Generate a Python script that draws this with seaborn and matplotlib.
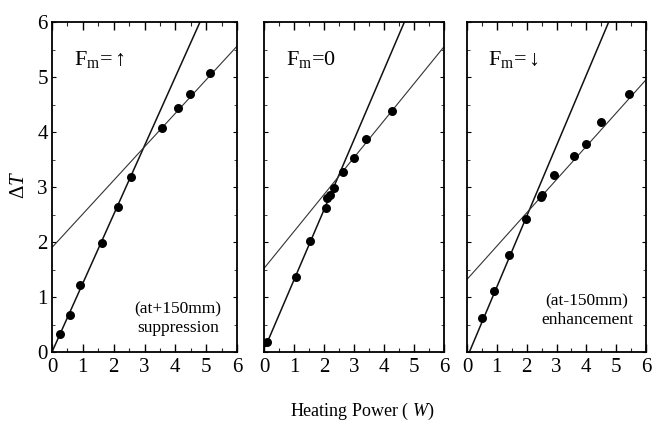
import numpy as np
import pandas as pd
import matplotlib
matplotlib.use("Agg")
import matplotlib.pyplot as plt
import seaborn as sns
from matplotlib.ticker import MultipleLocator

# ---------------- data ----------------
panel_labels = [r"F$_\mathrm{m}$=$\uparrow$", r"F$_\mathrm{m}$=0", r"F$_\mathrm{m}$=$\downarrow$"]
notes = ["(at+150mm)\nsuppression", "", "(at-150mm)\nenhancement"]

p1_x = [0.27, 0.58, 0.92, 1.63, 2.15, 2.55, 3.57, 4.08, 4.46, 5.14]
p1_y = [0.33, 0.67, 1.21, 1.99, 2.64, 3.18, 4.08, 4.44, 4.69, 5.08]

p2_x = [0.09, 1.07, 1.53, 2.06, 2.11, 2.19, 2.34, 2.64, 2.99, 3.40, 4.27]
p2_y = [0.18, 1.36, 2.01, 2.62, 2.80, 2.86, 2.99, 3.27, 3.52, 3.87, 4.38]

p3_x = [0.50, 0.92, 1.41, 1.98, 2.47, 2.52, 2.92, 3.58, 3.99, 4.50, 5.42]
p3_y = [0.62, 1.11, 1.76, 2.42, 2.82, 2.86, 3.22, 3.57, 3.79, 4.19, 4.70]

# fitted lines: end points (x0, x1), (y0, y1)
steep_x = [[0.0, 4.80], [0.05, 4.68], [0.08, 4.75]]
steep_y = [[0.0, 6.00], [0.10, 6.00], [0.0, 6.00]]
shallow_x = [[0.0, 6.0], [0.0, 6.0], [0.0, 6.0]]
shallow_y = [[1.90, 5.56], [1.52, 5.55], [1.32, 4.95]]

xticks = [0, 1, 2, 3, 4, 5, 6]
yticks = [0, 1, 2, 3, 4, 5, 6]

# ---------------- style ----------------
sns.set_theme(style="ticks")
plt.rcParams["font.family"] = ["Liberation Serif", "DejaVu Serif"]
plt.rcParams["mathtext.fontset"] = "custom"
plt.rcParams["mathtext.rm"] = "Liberation Serif"
plt.rcParams["mathtext.it"] = "Liberation Serif:italic"

W, H = 653, 426
fig = plt.figure(figsize=(W / 100, H / 100), dpi=100)
fig.patch.set_facecolor("white")

lefts = [52, 264, 467]
widths = [185, 180, 179]
top, bottom = 22, 352

pts = [(p1_x, p1_y), (p2_x, p2_y), (p3_x, p3_y)]
note_pos = [(0.68, 0.10), None, (0.67, 0.125)]

for i in range(3):
    ax = fig.add_axes([lefts[i] / W, 1 - bottom / H, widths[i] / W, (bottom - top) / H])
    ax.set_facecolor("white")
    df = pd.DataFrame({"x": pts[i][0], "y": pts[i][1]})
    lst = pd.DataFrame({"x": steep_x[i], "y": steep_y[i]})
    lsh = pd.DataFrame({"x": shallow_x[i], "y": shallow_y[i]})
    sns.lineplot(data=lst, x="x", y="y", ax=ax, color="#111111", lw=1.1, zorder=2)
    sns.lineplot(data=lsh, x="x", y="y", ax=ax, color="#333333", lw=0.8, zorder=2)
    sns.scatterplot(data=df, x="x", y="y", ax=ax, color="black", s=42,
                    edgecolor="black", linewidth=0, zorder=3)
    ax.set_xlim(0, 6)
    ax.set_ylim(0, 6)
    ax.set_xlabel("")
    ax.set_ylabel("")
    ax.set_xticks(xticks)
    ax.set_yticks(yticks)
    ax.xaxis.set_minor_locator(MultipleLocator(0.5))
    ax.yaxis.set_minor_locator(MultipleLocator(0.5))
    ax.tick_params(axis="x", which="major", direction="in", length=6, width=1.0,
                   top=True, bottom=True, labelsize=15, pad=4, colors="black")
    ax.tick_params(axis="x", which="minor", direction="in", length=3, width=0.8,
                   top=True, bottom=True)
    ax.tick_params(axis="y", which="major", direction="in", length=3, width=0.8,
                   left=True, right=True, labelsize=15, pad=3, colors="black")
    ax.tick_params(axis="y", which="minor", direction="in", length=2, width=0.6,
                   left=True, right=True)
    if i > 0:
        ax.tick_params(axis="y", labelleft=False)
    ax.set_xticklabels([str(t) for t in xticks])
    if i == 0:
        ax.set_yticklabels([str(t) for t in yticks])
    for s in ax.spines.values():
        s.set_visible(True)
        s.set_color("black")
        s.set_linewidth(1.3)
    ax.text(0.12, 0.885, panel_labels[i], transform=ax.transAxes, fontsize=16,
            ha="left", va="center", color="black")
    if notes[i]:
        ax.text(note_pos[i][0], note_pos[i][1], notes[i], transform=ax.transAxes,
                fontsize=12.5, ha="center", va="center", color="black",
                linespacing=1.2)

fig.text(20 / W, 1 - 185 / H, r"$\Delta\mathit{T}$", rotation=90, fontsize=15,
         ha="center", va="center", color="black")
fig.text(362 / W, 1 - 411 / H, r"Heating Power ( $\mathit{W}$)", fontsize=13,
         ha="center", va="center", color="black")

fig.savefig("out.png", dpi=100, facecolor="white")
